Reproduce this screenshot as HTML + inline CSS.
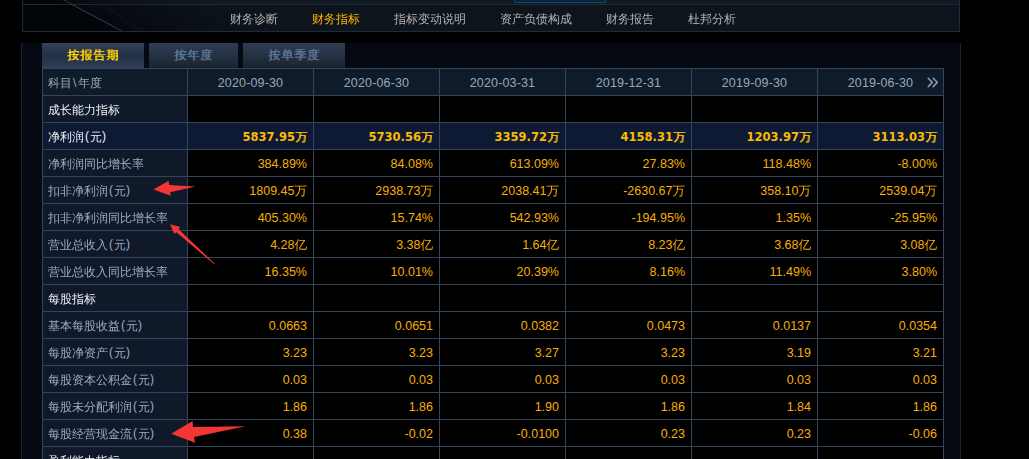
<!DOCTYPE html>
<html lang="zh-CN">
<head>
<meta charset="utf-8">
<title>财务指标</title>
<style>
*{margin:0;padding:0;box-sizing:border-box}
html,body{width:1029px;height:459px;overflow:hidden;background:#000}
body{position:relative;font-family:"Liberation Sans","WenQuanYi Zen Hei",sans-serif;font-size:12px;color:#a3adb9}

/* top navigation box */
#top{position:absolute;left:22px;top:-10px;width:938px;height:42px;background:#0e141d;border:1px solid #1e2b39;overflow:hidden}
#top svg.bg{position:absolute;left:0;top:0}
#nav{position:absolute;left:190px;top:20px;height:16px;white-space:nowrap;font-family:"Liberation Sans","WenQuanYi Zen Hei",sans-serif;font-size:12px;line-height:16px}
#nav span{display:inline-block;padding:0 17px;color:#b3b3b3}
#nav span.on{color:#ffb400}

/* panel */
#panel{position:absolute;left:21px;top:43px;width:940px;height:430px;background:#050911;border-left:1px solid #16222f;border-right:1px solid #172434}
.tab{position:absolute;top:0;height:25px;font-family:"Liberation Sans","WenQuanYi Zen Hei",sans-serif;font-weight:normal;text-shadow:1px 0 0 currentColor;font-size:12px;letter-spacing:1px;text-indent:0px;line-height:25px;text-align:center;color:#5a7696;background:linear-gradient(#2f3d54,#232e40 60%,#1a222e)}
.tab.on{height:26px;color:#ffd200;background:linear-gradient(#34435b,#28344a 35%,#243044 55%,#2c3a52 85%,#33445e)}

table{position:absolute;left:20px;top:25px;border-collapse:separate;border-spacing:0;table-layout:fixed;border-left:1px solid #34455b;border-top:1px solid #34455b}
td{height:27px;border-right:1px solid #34455b;border-bottom:1px solid #34455b;background:#000;color:#f6ae05;text-align:right;padding:2px 6px 0 0;white-space:nowrap;font-size:12.5px;line-height:24px}
td.l{width:145px;text-align:left;padding:2px 0 0 5px;background:#0f1929;color:#9cadc0;font-family:"Liberation Sans","WenQuanYi Zen Hei",sans-serif;font-size:12px}
td.d{width:126px}
tr.h td{background:#101b2a;color:#97a8bb;text-align:center;padding:2px 0 0 0;letter-spacing:0.15px}
tr.h td.l{text-align:left;padding-left:5px;letter-spacing:0}
tr.s td.l{color:#eef2f6}
tr.k td{background:#0e1934;color:#fcbb00;font-weight:bold;font-family:"DejaVu Sans","WenQuanYi Zen Hei",sans-serif;font-size:11.5px}
tr.k td.l{color:#eef2f6;font-weight:normal;font-family:"Liberation Sans","WenQuanYi Zen Hei",sans-serif;font-size:12px}
.more{position:absolute;left:926px;top:76px}
tr.k i{font-style:normal;font-family:"Liberation Sans","WenQuanYi Zen Hei",sans-serif;font-size:12px;font-weight:normal;text-shadow:1px 0 0 currentColor}
.bs{display:inline-block;width:6px;font-family:"Liberation Sans",sans-serif;text-indent:1px}
.pl,.pr{display:inline-block;width:6px;position:relative;top:-1px}
.pl{text-align:center}
#arrows{position:absolute;left:0;top:0}
</style>
</head>
<body>

<div id="top">
  <svg class="bg" width="938" height="42" viewBox="0 0 938 42">
    <defs>
      <linearGradient id="gb" gradientUnits="userSpaceOnUse" x1="40.5" y1="9" x2="73.3" y2="-52.8">
        <stop offset="0" stop-color="#05080c"/>
        <stop offset="0.5" stop-color="#0a0f16"/>
        <stop offset="1" stop-color="#0e141c"/>
      </linearGradient>
      <linearGradient id="gs" gradientUnits="userSpaceOnUse" x1="40.5" y1="9" x2="73.3" y2="-52.8">
        <stop offset="0" stop-color="#070b10"/>
        <stop offset="1" stop-color="#121a23"/>
      </linearGradient>
      <linearGradient id="gl" gradientUnits="userSpaceOnUse" x1="23.6" y1="0" x2="102.6" y2="42">
        <stop offset="0" stop-color="#17222d"/>
        <stop offset="0.35" stop-color="#2a3f52"/>
        <stop offset="0.8" stop-color="#2e4457"/>
        <stop offset="1" stop-color="#22323f"/>
      </linearGradient>
    </defs>
    <rect x="0" y="0" width="938" height="42" fill="url(#gb)"/>
    <rect x="0" y="0" width="938" height="13" fill="url(#gs)"/>
    <rect x="491" y="0" width="92" height="11" fill="#02253f"/>
    <rect x="491" y="11" width="92" height="1" fill="#1a4460"/>
    <rect x="491" y="0" width="1" height="12" fill="#16384f"/>
    <rect x="582" y="0" width="1" height="12" fill="#1a4460"/>
    <polygon points="0,0 23.6,0 102.6,42 0,42" fill="#030508"/>
    <rect x="0" y="13" width="938" height="1" fill="#1c2835"/>
    <line x1="23.6" y1="0" x2="102.6" y2="42" stroke="url(#gl)" stroke-width="1"/>
    <line x1="80" y1="13" x2="120" y2="42" stroke="#0e151d" stroke-width="4" opacity="0.45"/>
  </svg>
  <div id="nav"><span>财务诊断</span><span class="on">财务指标</span><span>指标变动说明</span><span>资产负债构成</span><span>财务报告</span><span>杜邦分析</span></div>
</div>

<div id="panel">
  <div class="tab on" style="left:20px;width:102px">按报告期</div>
  <div class="tab" style="left:127px;width:89px">按年度</div>
  <div class="tab" style="left:221px;width:102px">按单季度</div>

  <table>
    <tr class="h"><td class="l">科目<span class="bs">\</span>年度</td><td class="d">2020-09-30</td><td class="d">2020-06-30</td><td class="d">2020-03-31</td><td class="d">2019-12-31</td><td class="d">2019-09-30</td><td class="d">2019-06-30</td></tr>
    <tr class="s"><td class="l">成长能力指标</td><td></td><td></td><td></td><td></td><td></td><td></td></tr>
    <tr class="k"><td class="l">净利润<span class="pl">(</span>元<span class="pr">)</span></td><td>5837.95<i>万</i></td><td>5730.56<i>万</i></td><td>3359.72<i>万</i></td><td>4158.31<i>万</i></td><td>1203.97<i>万</i></td><td>3113.03<i>万</i></td></tr>
    <tr><td class="l">净利润同比增长率</td><td>384.89%</td><td>84.08%</td><td>613.09%</td><td>27.83%</td><td>118.48%</td><td>-8.00%</td></tr>
    <tr><td class="l">扣非净利润<span class="pl">(</span>元<span class="pr">)</span></td><td>1809.45万</td><td>2938.73万</td><td>2038.41万</td><td>-2630.67万</td><td>358.10万</td><td>2539.04万</td></tr>
    <tr><td class="l">扣非净利润同比增长率</td><td>405.30%</td><td>15.74%</td><td>542.93%</td><td>-194.95%</td><td>1.35%</td><td>-25.95%</td></tr>
    <tr><td class="l">营业总收入<span class="pl">(</span>元<span class="pr">)</span></td><td>4.28亿</td><td>3.38亿</td><td>1.64亿</td><td>8.23亿</td><td>3.68亿</td><td>3.08亿</td></tr>
    <tr><td class="l">营业总收入同比增长率</td><td>16.35%</td><td>10.01%</td><td>20.39%</td><td>8.16%</td><td>11.49%</td><td>3.80%</td></tr>
    <tr class="s"><td class="l">每股指标</td><td></td><td></td><td></td><td></td><td></td><td></td></tr>
    <tr><td class="l">基本每股收益<span class="pl">(</span>元<span class="pr">)</span></td><td>0.0663</td><td>0.0651</td><td>0.0382</td><td>0.0473</td><td>0.0137</td><td>0.0354</td></tr>
    <tr><td class="l">每股净资产<span class="pl">(</span>元<span class="pr">)</span></td><td>3.23</td><td>3.23</td><td>3.27</td><td>3.23</td><td>3.19</td><td>3.21</td></tr>
    <tr><td class="l">每股资本公积金<span class="pl">(</span>元<span class="pr">)</span></td><td>0.03</td><td>0.03</td><td>0.03</td><td>0.03</td><td>0.03</td><td>0.03</td></tr>
    <tr><td class="l">每股未分配利润<span class="pl">(</span>元<span class="pr">)</span></td><td>1.86</td><td>1.86</td><td>1.90</td><td>1.86</td><td>1.84</td><td>1.86</td></tr>
    <tr><td class="l">每股经营现金流<span class="pl">(</span>元<span class="pr">)</span></td><td>0.38</td><td>-0.02</td><td>-0.0100</td><td>0.23</td><td>0.23</td><td>-0.06</td></tr>
    <tr class="s"><td class="l">盈利能力指标</td><td></td><td></td><td></td><td></td><td></td><td></td></tr>
  </table>
</div>

<svg class="more" width="13" height="13" viewBox="0 0 13 13"><polyline points="2.2,2.2 6.3,6.4 2.2,10.6" fill="none" stroke="#8798ad" stroke-width="1.6" stroke-linejoin="round" stroke-linecap="round"/><polyline points="7.2,2.2 11.3,6.4 7.2,10.6" fill="none" stroke="#8798ad" stroke-width="1.6" stroke-linejoin="round" stroke-linecap="round"/></svg>

<svg id="arrows" width="1029" height="459" viewBox="0 0 1029 459">
  <g fill="#f23535">
    <polygon points="153.5,189.6 168.6,180.8 169.2,184.9 195.4,186.4 170.1,192.2 170.7,195.7"/>
    <polygon points="170.1,224.2 180.3,227.1 178.6,229.2 215,263.9 214.2,264.2 176.4,232.2 174.2,233.8"/>
    <polygon points="171.2,433.7 192.6,421 193,427.1 245.5,426.2 194,436.9 195,442.7"/>
  </g>
</svg>

</body>
</html>
